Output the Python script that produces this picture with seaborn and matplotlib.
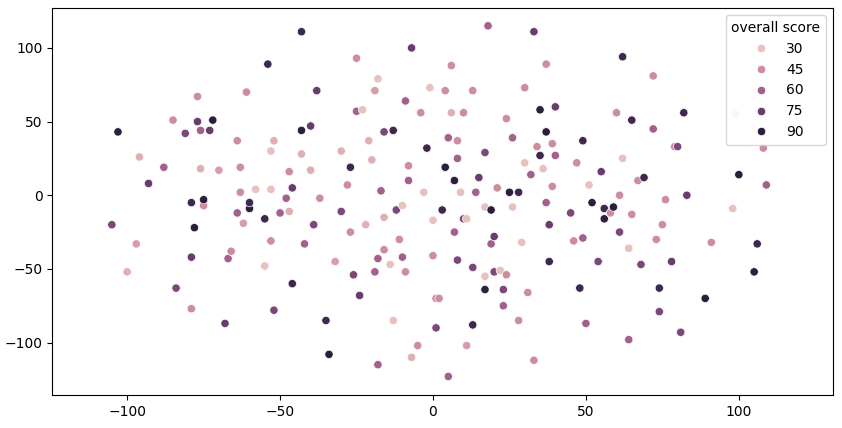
import matplotlib
matplotlib.use("Agg")
import matplotlib.pyplot as plt
import seaborn as sns
import pandas as pd

pts = [
(-103,43,90),(-105,-20,70),(-100,-52,35),(-97,-33,40),(-96,26,35),(-93,8,75),(-88,19,60),(-85,51,45),
(-84,-63,70),(-81,42,70),(-79,-77,45),(-79,-42,75),(-79,-5,85),(-78,-22,90),(-77,50,75),(-77,67,45),
(-76,44,60),(-76,18,35),(-75,-7,45),(-75,-3,90),(-73,44,75),(-72,51,90),(-70,17,40),(-68,-87,75),
(-67,-43,60),(-66,-38,45),(-64,-12,60),(-64,37,45),(-63,2,45),(-63,19,45),(-62,-19,40),(-61,70,45),
(-60,-9,90),(-60,-5,85),(-58,4,30),(-55,-16,85),(-55,-48,30),(-54,89,85),(-53,30,30),(-53,4,30),
(-53,-31,45),(-52,37,35),(-52,-78,70),(-50,-12,60),(-48,-2,60),(-47,16,45),(-47,-11,35),(-46,-60,85),
(-46,5,75),(-43,111,85),(-43,44,90),(-43,28,35),(-42,-33,60),(-40,17,35),(-40,47,75),(-39,-20,70),
(-38,71,75),(-37,-2,45),(-35,-85,85),(-34,-108,90),(-32,-45,40),(-30,-11,70),(-30,30,35),(-28,7,45),
(-27,-25,45),(-27,19,85),(-26,-54,70),(-25,93,45),(-25,57,60),(-24,-68,75),(-23,58,30),(-22,-20,35),
(-21,37,35),(-20,24,35),(-19,-52,60),(-19,71,40),(-18,-115,60),(-18,79,30),(-18,-43,60),(-17,3,60),
(-16,-15,35),(-16,43,70),(-16,-37,45),(-14,-47,30),(-13,44,85),(-13,-85,30),(-12,-10,70),(-11,-30,45),
(-10,-42,60),(-10,-7,30),(-9,-52,45),(-9,64,60),(-8,10,60),(-8,20,45),(-7,100,75),(-7,-110,35),
(-5,-102,45),(-4,56,45),(-3,2,30),(-2,32,85),(-1,73,30),(0,-17,30),(0,-41,45),(1,-70,45),
(1,-90,70),(2,-70,45),(3,-10,85),(4,71,45),(4,19,90),(5,-123,60),(5,39,60),(6,88,45),
(6,56,35),(7,10,90),(7,-25,60),(8,37,45),(8,-44,70),(8,25,60),(9,2,30),(10,-16,70),
(10,56,45),(11,-16,30),(11,-102,40),(13,-49,70),(13,71,45),(13,-88,85),(14,2,60),(15,12,75),
(17,29,70),(17,-8,30),(17,-55,30),(17,-64,90),(18,115,60),(19,-33,60),(19,-10,90),(20,-28,75),
(20,-52,70),(21,5,45),(22,-51,30),(23,-64,70),(23,-75,60),(24,-54,45),(24,52,45),(25,2,90),
(26,39,60),(26,-8,30),(28,-85,45),(28,2,85),(29,-32,30),(30,73,45),(30,22,30),(31,-66,45),
(32,14,60),(33,-112,45),(33,111,75),(34,33,45),(35,58,90),(35,27,85),(36,18,30),(37,-5,60),
(37,89,45),(37,43,90),(38,-20,75),(38,-45,85),(39,35,45),(39,6,45),(40,60,75),(40,27,60),
(45,-12,70),(46,-31,45),(47,22,45),(48,-63,85),(49,37,85),(49,-29,60),(50,-87,60),(51,7,30),
(52,-5,90),(54,-45,70),(55,16,75),(56,-16,90),(56,-9,85),(58,-12,45),(59,-8,90),(60,56,45),
(61,-25,70),(61,0,45),(62,94,85),(62,25,30),(64,-98,60),(64,-36,30),(65,51,85),(65,-13,45),
(67,10,45),(68,-47,70),(69,12,85),(72,45,60),(72,81,45),(73,-30,45),(74,-63,85),(74,-79,70),
(75,-20,45),(76,-3,45),(78,-45,75),(79,33,45),(80,33,70),(81,-93,70),(82,56,85),(83,0,75),
(89,-70,90),(91,-32,45),(98,-9,30),(99,55,25),(100,14,90),(106,-33,85),(105,-52,90),(108,32,45),
(109,7,60),
]
x_vals = [p[0] for p in pts]
y_vals = [p[1] for p in pts]
scores = [p[2] for p in pts]
df = pd.DataFrame({"x": x_vals, "y": y_vals, "overall score": scores})

fig, ax = plt.subplots(figsize=(8.42, 4.28), dpi=100)
fig.subplots_adjust(left=0.062, right=0.989, top=0.981, bottom=0.077)
sns.scatterplot(data=df, x="x", y="y", hue="overall score", ax=ax)
ax.set_xlim(-124.5, 130.7)
ax.set_ylim(-135.6, 127)
ax.set_xlabel("")
ax.set_ylabel("")
ax.set_xticks([-100, -50, 0, 50, 100])
ax.set_yticks([-100, -50, 0, 50, 100])
ax.legend(title="overall score", loc="upper right")
fig.savefig("out.png")
